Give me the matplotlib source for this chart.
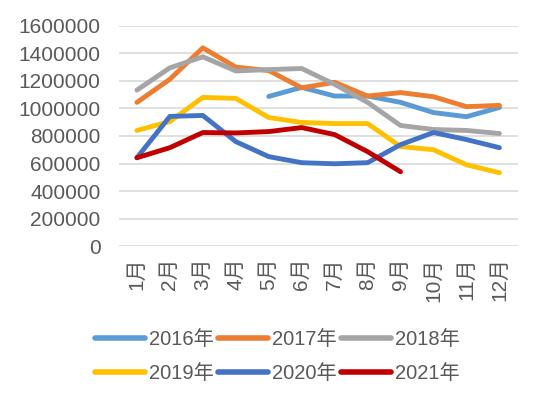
import numpy as np
import matplotlib
matplotlib.use('Agg')
import matplotlib.pyplot as plt

plt.rcParams['font.family'] = ['Liberation Sans', 'Noto Sans CJK SC']

months = ['1月', '2月', '3月', '4月', '5月', '6月', '7月', '8月', '9月', '10月', '11月', '12月']

# monthly values, None where there is no data
y2016 = [None, None, None, None, 1087000, 1153000, 1090000, 1090000, 1044000, 970000, 940000, 1007000]
y2017 = [1044000, 1212000, 1440000, 1300000, 1275000, 1150000, 1190000, 1090000, 1115000, 1085000, 1013000, 1022000]
y2018 = [1133000, 1295000, 1375000, 1272000, 1282000, 1290000, 1175000, 1044000, 876000, 847000, 840000, 818000]
y2019 = [840000, 905000, 1080000, 1073000, 934000, 898000, 890000, 890000, 723000, 700000, 591000, 533000]
y2020 = [642000, 942000, 949000, 759000, 650000, 606000, 598000, 606000, 737000, 825000, 774000, 715000]
y2021 = [642000, 715000, 825000, 822000, 832000, 861000, 810000, 686000, 540000]

series = [
    ('2016年', y2016, '#5B9BD5'),
    ('2017年', y2017, '#ED7D31'),
    ('2018年', y2018, '#A5A5A5'),
    ('2019年', y2019, '#FFC000'),
    ('2020年', y2020, '#4472C4'),
    ('2021年', y2021, '#C00000'),
]

fig = plt.figure(figsize=(5.5, 3.97), dpi=100)
ax = fig.add_axes([0.216, 0.38, 0.725, 0.555])

x = np.arange(len(months))
lines = []
for label, vals, color in series:
    v = np.array([np.nan if a is None else a for a in vals], dtype=float)
    ln, = ax.plot(x[:len(v)], v, color=color, lw=3.5, label=label, solid_capstyle='round')
    lines.append(ln)

ax.set_ylim(0, 1600000)
ax.set_yticks(np.arange(0, 1600001, 200000))
ax.set_yticklabels([str(t) for t in range(0, 1600001, 200000)])
ax.set_xlim(-0.55, 11.55)
ax.set_xticks(x)
ax.set_xticklabels(months, rotation=90)
ax.grid(axis='y', color='#D9D9D9', lw=1.2)
ax.set_axisbelow(True)
for s in ax.spines.values():
    s.set_visible(False)
ax.tick_params(length=0, labelsize=15, labelcolor='#595959')
ax.tick_params(axis='y', pad=13)
ax.tick_params(axis='x', pad=8)

# legend fills by column, so reorder to read row by row
order = [0, 3, 1, 4, 2, 5]
leg = fig.legend([lines[i] for i in order], [series[i][0] for i in order],
                 loc='upper left', bbox_to_anchor=(0.172, 0.168), ncol=3, frameon=False,
                 fontsize=14.5, labelcolor='#595959', handlelength=2.5, handletextpad=0.2,
                 columnspacing=0.2, labelspacing=0.72, borderaxespad=0, borderpad=0)
for h in leg.legend_handles:
    h.set_linewidth(4)

fig.savefig('out.png', dpi=100)
